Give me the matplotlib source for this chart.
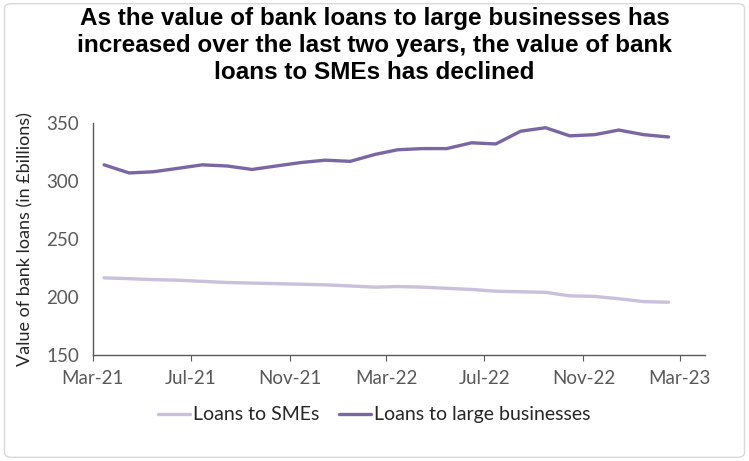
import matplotlib
matplotlib.use("Agg")
import matplotlib.pyplot as plt
import matplotlib.dates as mdates
from matplotlib.patches import FancyBboxPatch
import pandas as pd

months = pd.date_range("2021-03-01", periods=24, freq="MS") + pd.Timedelta(days=14)
sme_loans = [216.5, 215.8, 215.0, 214.5, 213.5, 212.5, 212.0, 211.5, 211.0, 210.5, 209.5, 208.5,
             209.0, 208.5, 207.5, 206.5, 205.0, 204.5, 204.0, 201.0, 200.5, 198.5, 196.0, 195.5]
large_loans = [314, 307, 308, 311, 314, 313, 310, 313, 316, 318, 317, 323,
               327, 328, 328, 333, 332, 343, 346, 339, 340, 344, 340, 338]
series_names = ["Loans to SMEs", "Loans to large businesses"]
title = ("As the value of bank loans to large businesses has\n"
         "increased over the last two years, the value of bank\n"
         "loans to SMEs has declined")
y_label = "Value of bank loans (in £billions)"
y_ticks = [150, 200, 250, 300, 350]
x_tick_dates = pd.date_range("2021-03-01", "2023-03-01", freq="4MS")

fig = plt.figure(figsize=(7.49, 4.61), dpi=100)
fig.patches.append(FancyBboxPatch((0.006, 0.008), 0.988, 0.984, boxstyle="round,pad=0,rounding_size=0.01",
                                  transform=fig.transFigure, fill=False, edgecolor="#d9d9d9", linewidth=1.0))
ax = fig.add_axes([0.124, 0.23, 0.817, 0.503])

tick_font = "Lato"
gray = "#595959"
ax.plot(months, sme_loans, color="#c9c0db", linewidth=2.4, label=series_names[0], solid_capstyle="round")
ax.plot(months, large_loans, color="#7a66a3", linewidth=2.4, label=series_names[1], solid_capstyle="round")

ax.set_ylim(150, 350)
ax.set_yticks(y_ticks)
ax.set_xlim(pd.Timestamp("2021-03-01"), pd.Timestamp("2023-04-01"))
ax.set_xticks(x_tick_dates)
ax.xaxis.set_major_formatter(mdates.DateFormatter("%b-%y"))

for s in ["top", "right"]:
    ax.spines[s].set_visible(False)
for s in ["left", "bottom"]:
    ax.spines[s].set_color(gray)
    ax.spines[s].set_linewidth(1.0)
ax.tick_params(axis="y", length=0, pad=10, labelsize=13.5, labelcolor=gray)
ax.tick_params(axis="x", length=4, color=gray, pad=7, labelsize=13.5, labelcolor=gray)
for lab in ax.get_xticklabels() + ax.get_yticklabels():
    lab.set_fontfamily(tick_font)

ax.set_ylabel(y_label, fontsize=13, color="#262626", family=tick_font, labelpad=9)

fig.suptitle(title, x=0.5, y=0.985, fontsize=17.5, fontweight="bold", family="Liberation Sans",
             linespacing=1.22, color="#000000")

leg = fig.legend(loc="center", bbox_to_anchor=(0.5, 0.1), ncol=2, frameon=False,
                 prop={"family": tick_font, "size": 14}, handlelength=1.65, handletextpad=0.15,
                 columnspacing=1.0)
for t in leg.get_texts():
    t.set_color("#262626")

fig.savefig("out.png", dpi=100)
